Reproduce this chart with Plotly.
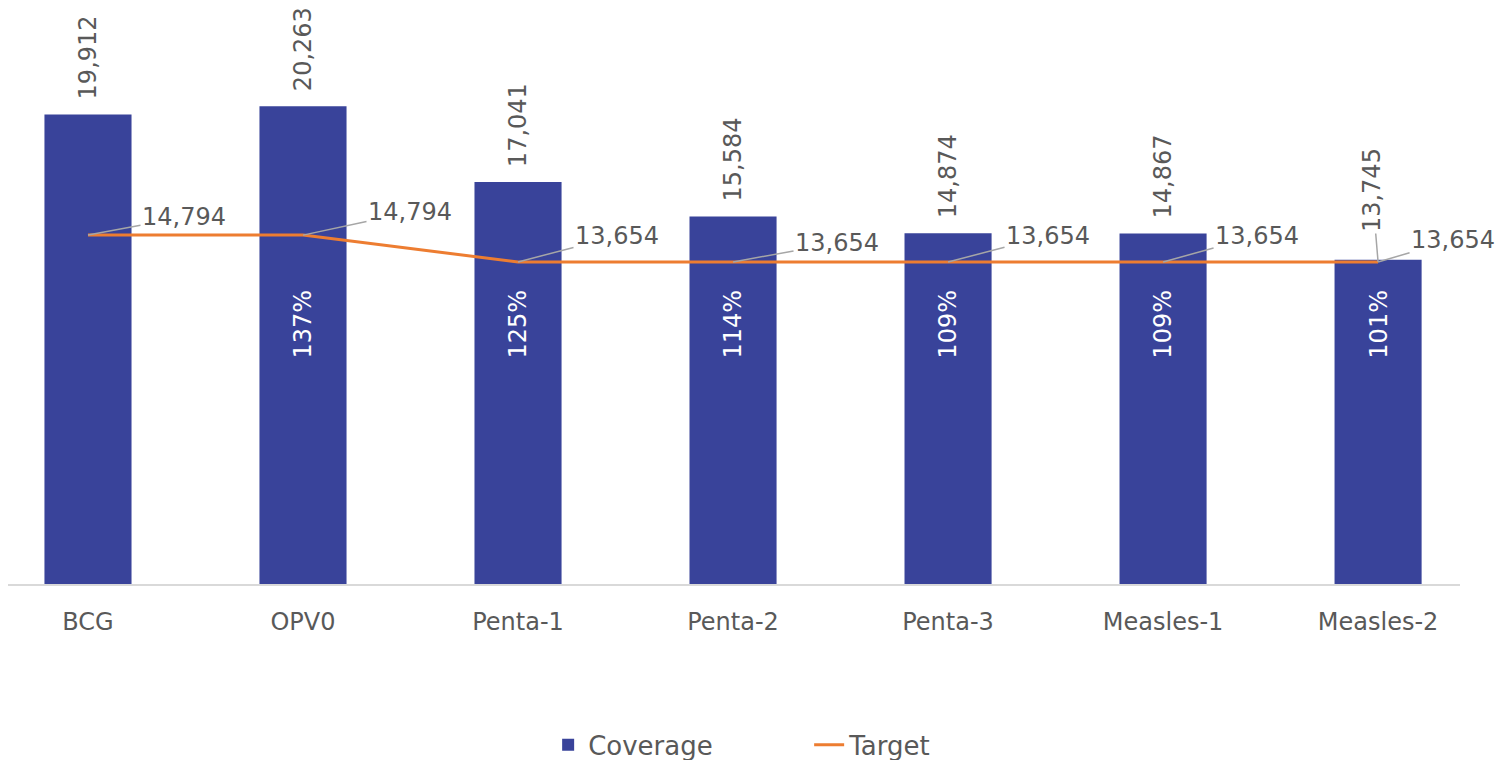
import plotly.graph_objects as go

vaccines = ["BCG", "OPV0", "Penta-1", "Penta-2", "Penta-3", "Measles-1", "Measles-2"]
coverage = [19912, 20263, 17041, 15584, 14874, 14867, 13745]
target = [14794, 14794, 13654, 13654, 13654, 13654, 13654]
pct_labels = ["", "137%", "125%", "114%", "109%", "109%", "101%"]

FONT = "DejaVu Sans"
GREY = "#595959"
BAR_COLOR = "#39439A"
LINE_COLOR = "#ED7D31"

# offsets (px) of the target labels from their points
tgt_offsets = [(96, -18), (107, -23), (99, -26), (104, -19), (100, -26), (94, -26), (75, -22)]

fig = go.Figure()

fig.add_trace(go.Bar(
    x=vaccines, y=coverage,
    width=0.405,
    marker=dict(color=BAR_COLOR, line=dict(width=0)),
    name="Coverage",
))

fig.add_trace(go.Scatter(
    x=vaccines, y=target,
    mode="lines",
    line=dict(color=LINE_COLOR, width=3),
    name="Target",
))

annotations = []
# bar values above bars (rotated)
for i, (v, c) in enumerate(zip(vaccines, coverage)):
    if i == len(vaccines) - 1:
        annotations.append(dict(
            x=v, y=target[i], text=f"{c:,}", textangle=-90,
            showarrow=True, arrowhead=0, arrowwidth=1.5, arrowcolor="#A6A6A6",
            ax=-6, ay=-72,
            font=dict(size=24, color=GREY, family=FONT),
        ))
    else:
        annotations.append(dict(
            x=v, y=c, text=f"{c:,}", textangle=-90,
            showarrow=False, yanchor="bottom", yshift=13,
            font=dict(size=24, color=GREY, family=FONT),
        ))

# target labels with leader lines
for (v, t), (ax, ay) in zip(zip(vaccines, target), tgt_offsets):
    annotations.append(dict(
        x=v, y=t, text=f"{t:,}",
        showarrow=True, arrowhead=0, arrowwidth=1.5, arrowcolor="#A6A6A6",
        ax=ax, ay=ay,
        font=dict(size=24, color=GREY, family=FONT),
    ))

# percentage achieved, inside bars
for v, p in zip(vaccines, pct_labels):
    if p:
        annotations.append(dict(
            x=v, y=11000, text=p, textangle=-90, showarrow=False,
            font=dict(size=24, color="white", family=FONT),
        ))

# page body adds an 8px offset, so the figure is drawn 8px smaller
fig.update_layout(
    width=1501, height=752,
    margin=dict(l=0, r=49, t=10, b=176, autoexpand=False),
    paper_bgcolor="white", plot_bgcolor="white",
    font=dict(family=FONT, color=GREY, size=24),
    showlegend=True,
    legend=dict(
        orientation="h", x=0.372, xanchor="left",
        yref="container", y=0.02, yanchor="middle",
        font=dict(size=26, color=GREY), entrywidth=216,
    ),
    annotations=annotations,
)

fig.update_xaxes(
    type="category", range=[-0.372, 6.381], automargin=False,
    showline=True, linecolor="#D9D9D9", linewidth=2,
    showgrid=False, ticks="", ticklabelstandoff=15,
    tickfont=dict(size=24, color=GREY, family=FONT),
)
fig.update_yaxes(visible=False, range=[0, 24000], showgrid=False, automargin=False)

fig.write_html("out.html")
